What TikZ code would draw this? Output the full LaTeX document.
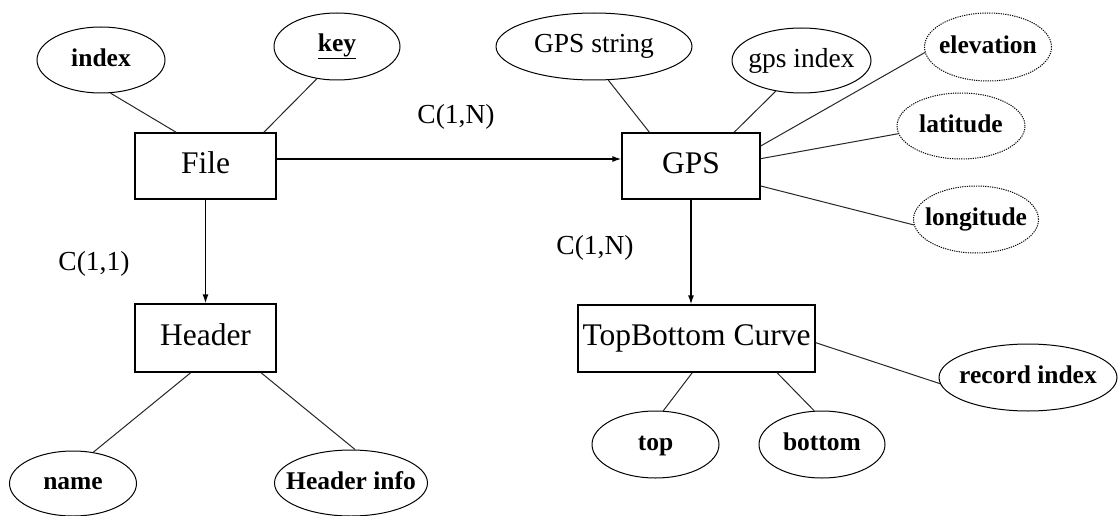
\documentclass[tikz,border=0pt]{standalone}
\usepackage{fontspec}
\setmainfont{Liberation Serif}
\usetikzlibrary{shapes.geometric,arrows.meta}

% zero-width box with a fixed height and depth, so the ellipse size comes
% from its minimum width/height only and every label sits on the same baseline
\newcommand{\zw}[1]{\makebox[0pt]{\vphantom{Hy}#1}}

\begin{document}
\begin{tikzpicture}[x=1pt,y=-1pt,
  entity/.style={draw, line width=1.3pt, rectangle, inner sep=0pt,
    font=\fontsize{31.5}{36}\selectfont},
  attr/.style={draw, line width=1pt, ellipse, inner sep=0pt},
  attrb/.style={attr, font=\fontsize{25.5}{30}\selectfont\bfseries},
  attrr/.style={attr, font=\fontsize{27.5}{32}\selectfont},
  derived/.style={dash pattern=on 1.2pt off 1.1pt},
  link/.style={line width=1pt, black!85},
  rel/.style={line width=1.4pt, -{Latex[length=9pt,width=6pt]}},
  card/.style={font=\fontsize{27.5}{32}\selectfont, inner sep=0pt}]

\path[use as bounding box, fill=white] (0,0) rectangle (1118,516);

% entities
\node[entity, minimum width=141pt, minimum height=66pt] (file)   at (205.5,166) {\vphantom{Hy}File};
\node[entity, minimum width=138pt, minimum height=66pt] (gps)    at (691,166)   {\vphantom{Hy}GPS};
\node[entity, minimum width=141pt, minimum height=68pt] (header) at (205.5,338) {\vphantom{Hy}Header};
\node[entity, minimum width=237pt, minimum height=67pt] (tb)     at (696.5,338.5) {\vphantom{Hy}TopBottom Curve};

% attributes
\node[attrb, minimum width=128pt, minimum height=66pt] (index)  at (101,60)    {\zw{index}};
\node[attrb, minimum width=126pt, minimum height=67pt] (key)    at (337,46.5)  {\zw{\underline{key}}};
\node[attrr, minimum width=196pt, minimum height=67pt] (gpsstr) at (594,46.5)  {\zw{GPS string}};
\node[attrr, minimum width=139pt, minimum height=65pt] (gpsidx) at (801.5,60.5) {\zw{gps index}};
\node[attrb, derived, minimum width=127pt, minimum height=68pt] (elev) at (988,47)   {\zw{elevation}};
\node[attrb, derived, minimum width=128pt, minimum height=66pt] (lat)  at (961,126)  {\zw{latitude}};
\node[attrb, derived, minimum width=125pt, minimum height=67pt] (lon)  at (976,219.5) {\zw{longitude}};
\node[attrb, minimum width=127pt, minimum height=65pt] (name)   at (73,483.5)  {\zw{name}};
\node[attrb, minimum width=153pt, minimum height=66pt] (hinfo)  at (351,483)   {\zw{Header info}};
\node[attrb, minimum width=127pt, minimum height=67pt] (top)    at (655.5,444.5) {\zw{top}};
\node[attrb, minimum width=126pt, minimum height=67pt] (bottom) at (822,444.5)   {\zw{bottom}};
\node[attrb, minimum width=178pt, minimum height=67pt] (recidx) at (1028,377.5)  {\zw{record index}};

% cardinality labels
\node[card] (c1) at (456,117) {C(1,N)};
\node[card] (c2) at (595,248) {C(1,N)};
\node[card] (c3) at (94,264)  {C(1,1)};

% relationships
\draw[rel] ([yshift=7pt]file.east) -- ([yshift=7pt]gps.west);
\draw[rel] (file.south) -- (header.north);
\draw[rel] (gps.south) -- (gps.south |- tb.north);

% attribute links
\draw[link] (file.131.8)  -- (index.-74.7);
\draw[link] (file.30.3)   -- (key.-122.9);
\draw[link] (gps.141.8)   -- (gpsstr.-67.3);
\draw[link] (gps.38.2)    -- (gpsidx.-130.4);
\draw[link] (gps.16.9)    -- (elev.185.4);
\draw[link] (gps.6.6)     -- (lat.187.1);
\draw[link] (gps.-16.9)   -- (lon.185.9);
\draw[link] (header.-113.1) -- (name.57.1);
\draw[link] (header.-32)  -- (hinfo.83.3);
\draw[link] (tb.-97.7)    -- (top.77.4);
\draw[link] (tb.-23.6)    -- (bottom.103.4);
\draw[link] (tb.-2.7)     -- (recidx.184.8);
\end{tikzpicture}
\end{document}
